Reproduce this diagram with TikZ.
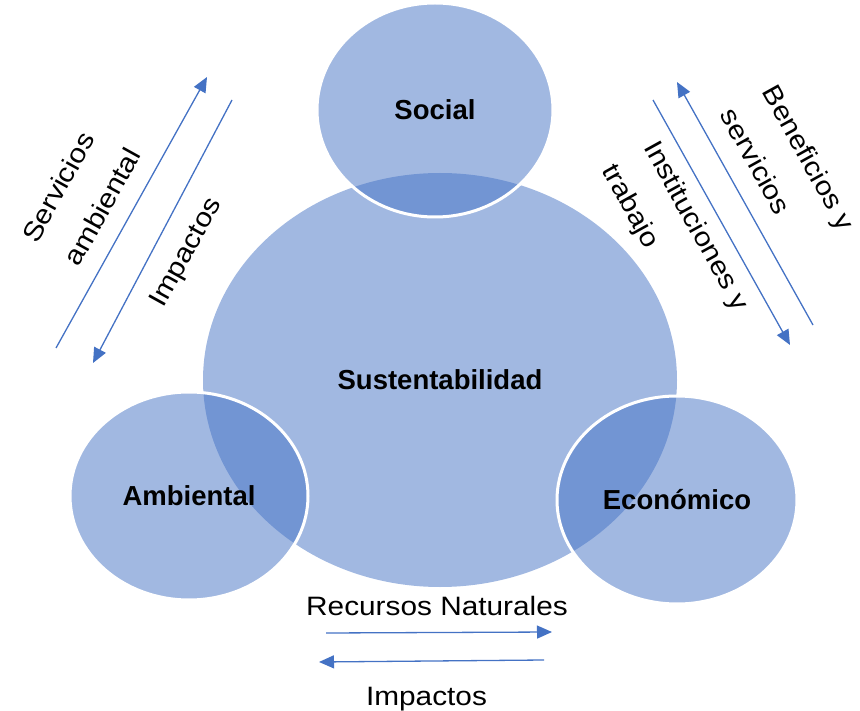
\documentclass[tikz,border=0pt]{standalone}
\usepackage{fontspec}
\setmainfont{Liberation Sans}
\newfontfamily\widefont[FakeStretch=1.12]{Liberation Sans}
\usetikzlibrary{shapes.geometric,arrows.meta}
\definecolor{ofblue}{HTML}{4472C4}
\tikzstyle{circ}=[ellipse,fill=ofblue,fill opacity=0.5,text opacity=1,inner sep=0pt,font=\fontsize{27.5}{32}\selectfont\bfseries]
\tikzstyle{ring}=[circ,draw=white,draw opacity=1,line width=3pt]
\tikzstyle{flow}=[draw=ofblue,line width=1.3pt,-{Triangle[length=15pt,width=13pt]}]
\tikzstyle{lbl}=[inner sep=0pt,align=left,font=\widefont\fontsize{26.6}{48}\selectfont]

\begin{document}
\begin{tikzpicture}[x=1pt,y=-1pt]
\useasboundingbox (0,0) rectangle (860,711);
\node[circ,minimum width=474pt,minimum height=414pt] at (440,380) (sus) {Sustentabilidad};
\node[ring,minimum width=236pt,minimum height=214pt] at (435,110) (soc) {Social};
\node[ring,minimum width=238pt,minimum height=208pt] at (189,496) (amb) {Ambiental};
\node[ring,minimum width=240pt,minimum height=208pt] at (677,500) (eco) {Económico};
\coordinate (sa1) at (56,348);
\coordinate (sa2) at (207,77);
\coordinate (im1) at (232,100);
\coordinate (im2) at (93,363);
\coordinate (bs1) at (813,325);
\coordinate (bs2) at (677,82);
\coordinate (it1) at (653,100);
\coordinate (it2) at (790,345);
\coordinate (rn1) at (326,633);
\coordinate (rn2) at (552,632);
\coordinate (ib1) at (544,660);
\coordinate (ib2) at (319,662);
\draw[flow] (sa1) -- (sa2);
\draw[flow] (im1) -- (im2);
\draw[flow] (bs1) -- (bs2);
\draw[flow] (it1) -- (it2);
\draw[flow] (rn1) -- (rn2);
\draw[flow] (ib1) -- (ib2);
\node[lbl,rotate=61] at (81,195) (servamb) {Servicios\\ambiental};
\node[lbl,rotate=61] at (187,253) (impizq) {Impactos};
\node[lbl,rotate=-61] at (788,169) (benser) {Beneficios y\\servicios};
\node[lbl,rotate=-61] at (674,238) (insttr) {Instituciones y\\trabajo};
\node[lbl,anchor=base] at (437,615) (recnat) {Recursos Naturales};
\node[lbl,anchor=base] at (426.5,705) (impinf) {Impactos};
\end{tikzpicture}
\end{document}
